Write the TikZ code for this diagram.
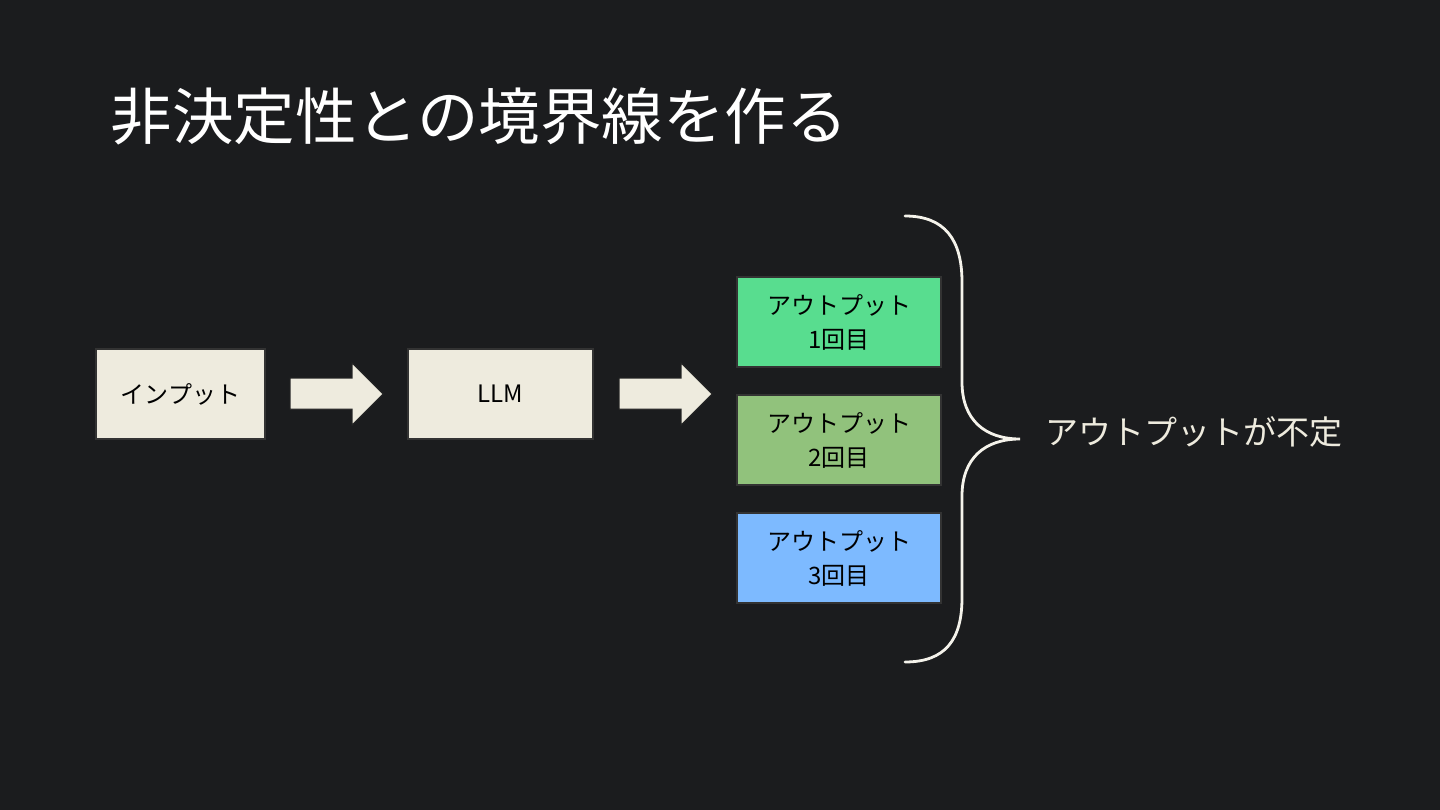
\documentclass[tikz,border=0pt]{standalone}
\usepackage{fontspec}
\setmainfont{Noto Sans CJK JP}
\begin{document}
\begin{tikzpicture}[x=1pt,y=-1pt,
  box/.style={draw=black!60!gray,line width=1.2pt,minimum width=#1,minimum height=90pt,inner sep=0pt,align=center,font=\fontsize{24}{34}\selectfont,text=black},
  blockarrow/.style={fill=beige,draw=black!70!gray,line width=1pt}]
\definecolor{bg}{HTML}{1B1C1E}
\definecolor{beige}{HTML}{EEEBDE}
\definecolor{gA}{HTML}{58DD8F}
\definecolor{gB}{HTML}{91C27C}
\definecolor{bB}{HTML}{7DBAFF}
\fill[bg] (0,0) rectangle (1440,810);
\useasboundingbox (0,0) rectangle (1440,810);
\node[anchor=west,text=white,font=\fontsize{61.5}{70}\selectfont] (title) at (107,116) {非決定性との境界線を作る};
\node[box=169pt,fill=beige] (in) at (180.5,394) {インプット};
\node[box=185pt,fill=beige] (llm) at (500.5,394) {LLM};
\node[box=204pt,fill=gA] (o1) at (839,322) {アウトプット\\1回目};
\node[box=204pt,fill=gB] (o2) at (839,440) {アウトプット\\2回目};
\node[box=204pt,fill=bB] (o3) at (839,558) {アウトプット\\3回目};
\draw[blockarrow] (290,378) -- (352,378) -- (352,363) -- (383,394) -- (352,425) -- (352,409) -- (290,409) -- cycle;
\draw[blockarrow] (619,378) -- (681,378) -- (681,363) -- (712,394) -- (681,425) -- (681,409) -- (619,409) -- cycle;
\coordinate (tip) at (1020,439);
\draw[line width=2.8pt,color=beige!60!white,line cap=round]
  (905,216) .. controls (945,216) and (962,240) .. (962,282) -- (962,382)
  .. controls (962,420) and (985,439) .. (tip)
  .. controls (985,439) and (962,458) .. (962,496) -- (962,598)
  .. controls (962,640) and (945,662) .. (905,662);
\node[anchor=west,text=beige,font=\fontsize{33}{40}\selectfont] (lab) at (1042,432) {アウトプットが不定};
\end{tikzpicture}
\end{document}
